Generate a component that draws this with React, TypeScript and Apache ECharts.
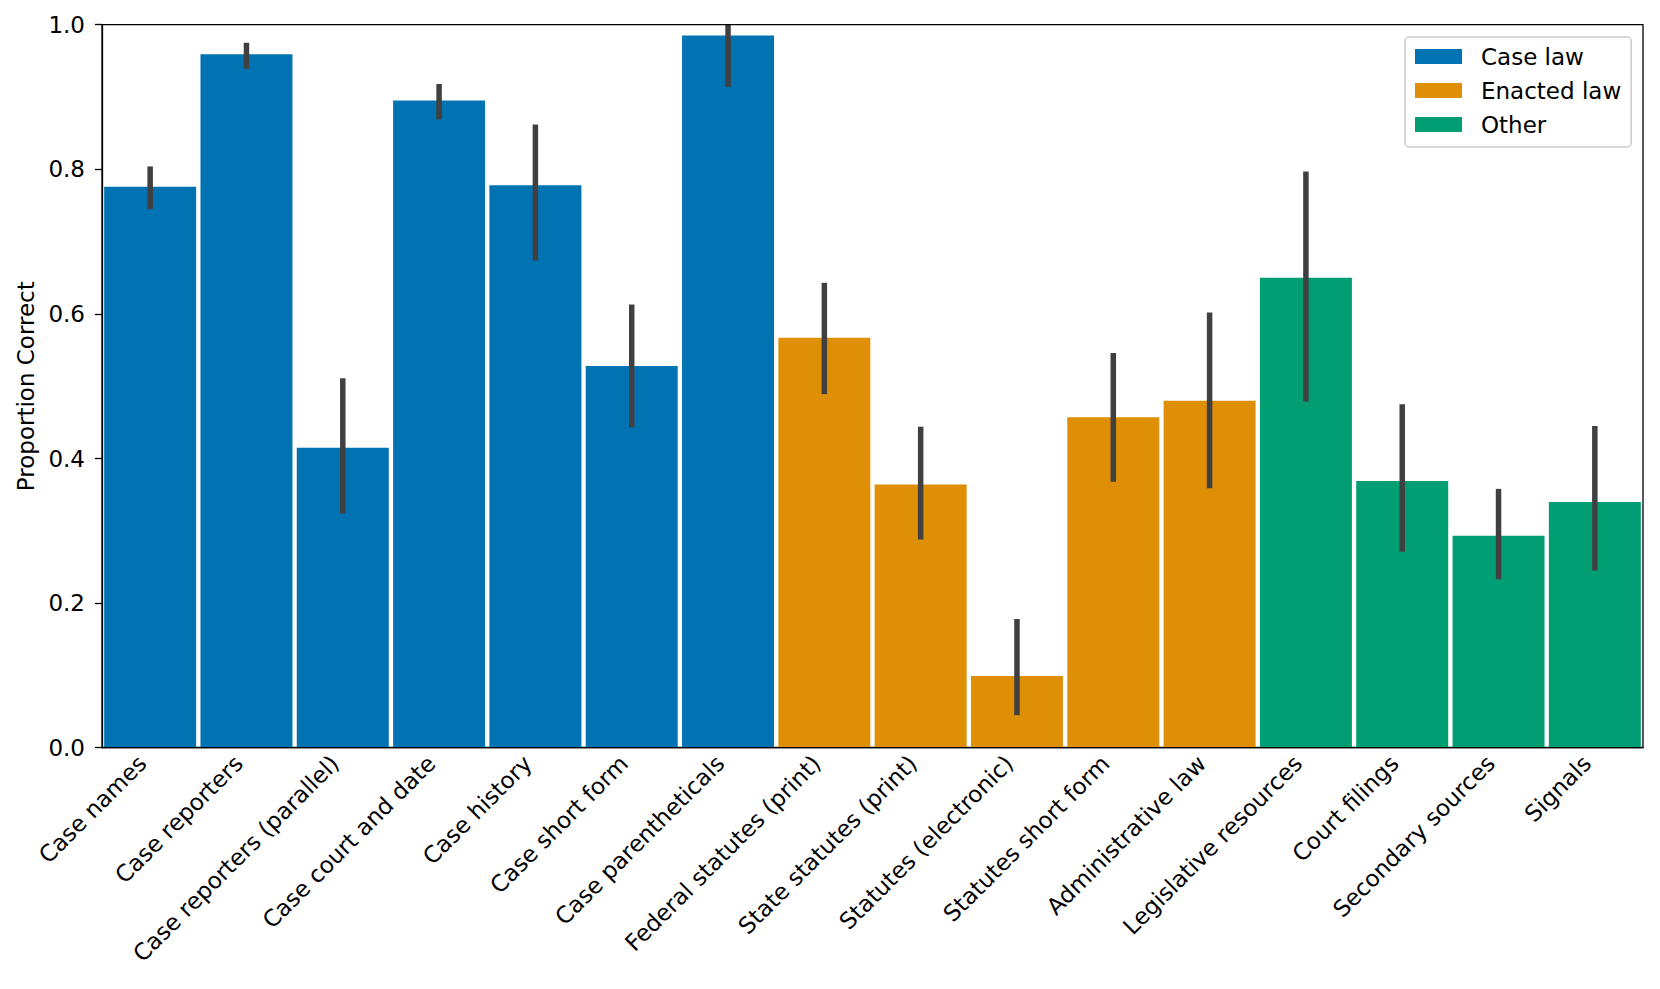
import React, { useEffect, useRef } from "react";
import * as echarts from "echarts";

const categories = [
  "Case names",
  "Case reporters",
  "Case reporters (parallel)",
  "Case court and date",
  "Case history",
  "Case short form",
  "Case parentheticals",
  "Federal statutes (print)",
  "State statutes (print)",
  "Statutes (electronic)",
  "Statutes short form",
  "Administrative law",
  "Legislative resources",
  "Court filings",
  "Secondary sources",
  "Signals",
];

const groups = [
  "Case law", "Case law", "Case law", "Case law", "Case law", "Case law", "Case law",
  "Enacted law", "Enacted law", "Enacted law", "Enacted law", "Enacted law",
  "Other", "Other", "Other", "Other",
];

const values = [0.776, 0.959, 0.415, 0.895, 0.778, 0.528, 0.985, 0.567, 0.364, 0.099, 0.457, 0.48, 0.65, 0.369, 0.293, 0.34];
const errLow = [0.745, 0.939, 0.324, 0.869, 0.674, 0.443, 0.914, 0.489, 0.288, 0.045, 0.368, 0.359, 0.479, 0.271, 0.233, 0.245];
const errHigh = [0.804, 0.975, 0.511, 0.918, 0.862, 0.613, 1.0, 0.643, 0.444, 0.178, 0.546, 0.602, 0.797, 0.475, 0.358, 0.445];

const groupNames = ["Case law", "Enacted law", "Other"];
const groupColors = ["#0173b2", "#de8f05", "#029e73"];

const FONT = "DejaVu Sans";
const FS = 23;

export default function App() {
  const ref = useRef<HTMLDivElement>(null);
  useEffect(() => {
    if (!ref.current) return;
    const chart = echarts.init(ref.current, null, { renderer: "svg" });
    const barSeries = groupNames.map((g, gi) => ({
      name: g,
      type: "bar",
      stack: "all",
      barWidth: "95.5%",
      itemStyle: { color: groupColors[gi] },
      data: values.map((v, i) => (groups[i] === g ? v : "-")),
      z: 2,
    }));
    const errData = categories.map((_, i) => [i, errLow[i], errHigh[i]]);
    chart.setOption({
      animation: false,
      textStyle: { fontFamily: FONT },
      grid: {
        left: 102,
        top: 24.7,
        width: 1541,
        height: 723,
        show: true,
        borderColor: "#000",
        borderWidth: 1.3,
        backgroundColor: "transparent",
        z: 10,
      },
      legend: {
        orient: "vertical",
        left: 1405,
        top: 37,
        padding: [8, 10, 11, 10],
        itemWidth: 47,
        itemHeight: 15,
        itemGap: 11,
        borderColor: "#cccccc",
        borderWidth: 1.5,
        borderRadius: 4,
        backgroundColor: "rgba(255,255,255,0.8)",
        icon: "rect",
        data: groupNames,
        textStyle: {
          fontFamily: FONT,
          fontSize: FS,
          color: "#000",
          lineHeight: 23,
          padding: [0, 0, 0, 14],
        },
      },
      xAxis: {
        type: "category",
        data: categories,
        boundaryGap: true,
        axisLine: { lineStyle: { color: "#000", width: 1.3 } },
        axisTick: { show: false },
        axisLabel: {
          interval: 0,
          rotate: 45,
          fontFamily: FONT,
          fontSize: FS,
          color: "#000",
          margin: 4,
          padding: [0, 11, 0, 0],
        },
        splitLine: { show: false },
      },
      yAxis: {
        type: "value",
        min: 0,
        max: 1,
        interval: 0.2,
        name: "Proportion Correct",
        nameLocation: "middle",
        nameGap: 65,
        nameTextStyle: { fontFamily: FONT, fontSize: FS, color: "#000" },
        axisLine: { show: true, lineStyle: { color: "#000", width: 1.3 } },
        axisTick: { show: true, length: 7, inside: false, lineStyle: { color: "#000", width: 1.3 } },
        axisLabel: {
          fontFamily: FONT,
          fontSize: FS,
          color: "#000",
          margin: 17,
          formatter: (v: number) => v.toFixed(1),
        },
        splitLine: { show: false },
      },
      series: [
        ...barSeries,
        {
          type: "custom",
          name: "err",
          data: errData,
          z: 5,
          clip: false,
          renderItem: (params: any, api: any) => {
            const x = api.value(0);
            const p1 = api.coord([x, api.value(1)]);
            const p2 = api.coord([x, api.value(2)]);
            return {
              type: "line",
              shape: { x1: p1[0], y1: p1[1], x2: p2[0], y2: p2[1] },
              style: { stroke: "#404040", lineWidth: 5.5, lineCap: "butt" },
            };
          },
        },
      ],
    });
    return () => chart.dispose();
  }, []);
  return (
    <div
      ref={ref}
      style={{ position: "fixed", left: 0, top: 0, width: 1660, height: 989, background: "#fff" }}
    />
  );
}
